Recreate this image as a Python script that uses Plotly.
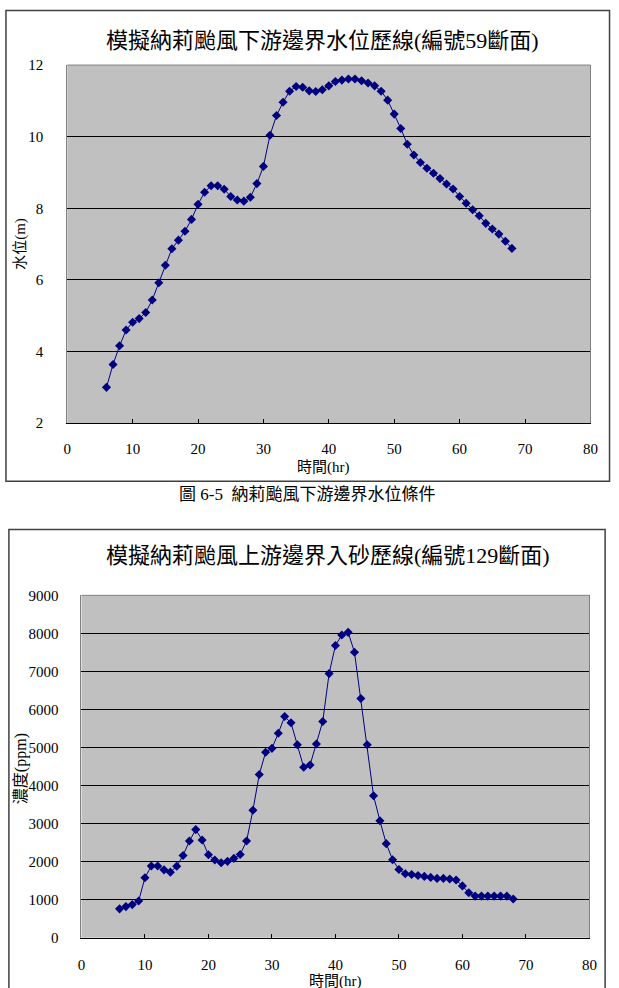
import plotly.graph_objects as go

hours = list(range(6, 69))
water_level = [3.0, 3.64, 4.16, 4.6, 4.82, 4.92, 5.09, 5.44, 5.92, 6.41, 6.87, 7.11, 7.36, 7.69,
               8.11, 8.45, 8.63, 8.63, 8.53, 8.33, 8.23, 8.2, 8.31, 8.69, 9.17, 10.04, 10.59, 10.96,
               11.27, 11.4, 11.38, 11.28, 11.26, 11.31, 11.42, 11.54, 11.58, 11.61, 11.61, 11.56,
               11.5, 11.42, 11.27, 11.02, 10.63, 10.23, 9.79, 9.49, 9.28, 9.12, 8.98, 8.83, 8.68,
               8.54, 8.33, 8.14, 7.96, 7.79, 7.58, 7.42, 7.28, 7.08, 6.88]
sediment = [758, 818, 870, 965, 1576, 1886, 1886, 1783, 1723, 1878, 2162, 2541, 2842, 2567,
            2179, 2041, 1972, 2007, 2084, 2188, 2541, 3351, 4289, 4875, 4978, 5375, 5814, 5650,
            5073, 4479, 4539, 5090, 5685, 6942, 7683, 7959, 8027, 7502, 6288, 5073, 3730, 3075,
            2472, 2050, 1792, 1680, 1662, 1636, 1611, 1585, 1559, 1559, 1542, 1516, 1361, 1180,
            1094, 1094, 1094, 1094, 1094, 1094, 1016]

title1 = "模擬納莉颱風下游邊界水位歷線(編號59斷面)"
title2 = "模擬納莉颱風上游邊界入砂歷線(編號129斷面)"
caption = "圖 6-5  納莉颱風下游邊界水位條件"
xlabel = "時間(hr)"
ylabel1 = "水位(m)"
ylabel2 = "濃度(ppm)"

W, H = 619, 988
FONT = "Liberation Serif, Noto Sans CJK TC, serif"
NAVY = "#000080"


def px(x):
    return x / W


def py(y):
    return 1 - y / H


fig = go.Figure()
fig.add_trace(go.Scatter(x=hours, y=water_level, mode="lines+markers", xaxis="x", yaxis="y",
                         line=dict(color=NAVY, width=1),
                         marker=dict(symbol="diamond", size=7, color=NAVY), showlegend=False))
fig.add_trace(go.Scatter(x=hours, y=sediment, mode="lines+markers", xaxis="x2", yaxis="y2",
                         line=dict(color=NAVY, width=1),
                         marker=dict(symbol="diamond", size=7, color=NAVY), showlegend=False))

axis_common = dict(showline=True, zeroline=False, ticks="inside", ticklen=4,
                   tickfont=dict(family=FONT, size=15, color="#000"), fixedrange=True)

fig.update_layout(
    width=W, height=H, margin=dict(l=0, r=0, t=0, b=0),
    paper_bgcolor="white", plot_bgcolor="#c0c0c0",
    font=dict(family=FONT, color="#000"),
    xaxis=dict(domain=[px(64.5), px(598)], range=[0, 80], dtick=10, showgrid=False,
               linecolor="#000", linewidth=1, tickcolor="#000", anchor="y",
               ticklabelstandoff=12, **axis_common),
    yaxis=dict(domain=[py(422), py(58)], range=[2, 12], dtick=2, showgrid=True,
               gridcolor="#000", gridwidth=1, linecolor="#808080", mirror=True,
               anchor="x", ticklabelstandoff=20, **{**axis_common, "ticks": ""}),
    xaxis2=dict(domain=[px(79), px(597)], range=[0, 80], dtick=10, showgrid=False,
                linecolor="#000", linewidth=1, tickcolor="#000", anchor="y2",
                ticklabelstandoff=13, **axis_common),
    yaxis2=dict(domain=[py(945), py(597)], range=[0, 9000], dtick=1000, showgrid=True,
                gridcolor="#000", gridwidth=1, linecolor="#808080", mirror=True,
                anchor="x2", ticklabelstandoff=19, **{**axis_common, "ticks": ""}),
)

shapes = [
    dict(type="line", xref="x domain", yref="y domain", x0=0, x1=1, y0=1, y1=1,
         line=dict(color="#808080", width=1), layer="above"),
    dict(type="line", xref="x2 domain", yref="y2 domain", x0=0, x1=1, y0=1, y1=1,
         line=dict(color="#808080", width=1), layer="above"),
    dict(type="rect", xref="paper", yref="paper", x0=px(2), x1=px(617.5), y0=py(481), y1=py(2.5),
         line=dict(color="#404040", width=1.5), layer="above"),
    dict(type="rect", xref="paper", yref="paper", x0=px(5), x1=px(613), y0=py(1000), y1=py(530),
         line=dict(color="#404040", width=1.5), layer="above"),
]
fig.update_layout(shapes=shapes)

ann = [
    dict(text=title1, x=px(325), y=py(33), font=dict(size=22)),
    dict(text=title2, x=px(330), y=py(557), font=dict(size=22)),
    dict(text=caption, x=px(309), y=py(494), font=dict(size=17)),
    dict(text=xlabel, x=px(326), y=py(467), font=dict(size=15)),
    dict(text=xlabel, x=px(338), y=py(979), font=dict(size=15), yanchor="top"),
    dict(text=ylabel1, x=px(16), y=py(240), font=dict(size=15), textangle=-90),
    dict(text=ylabel2, x=px(18), y=py(773), font=dict(size=16), textangle=-90),
]
for a in ann:
    a.update(xref="paper", yref="paper", showarrow=False)
    a.setdefault("xanchor", "center")
    a.setdefault("yanchor", "middle")
fig.update_layout(annotations=ann)

fig.write_html("out.html")
